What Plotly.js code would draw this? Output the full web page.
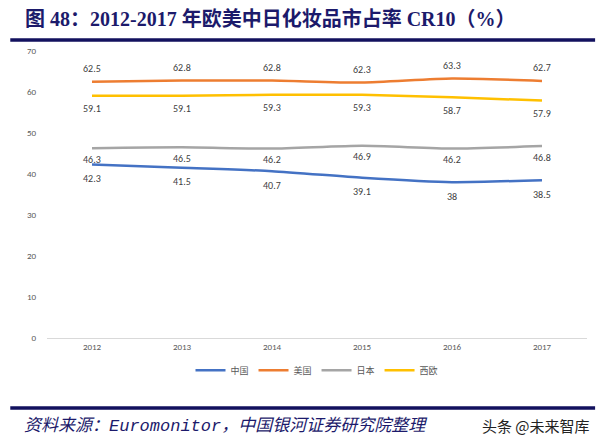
<!DOCTYPE html>
<html>
<head>
<meta charset="utf-8">
<script src="https://cdn.plot.ly/plotly-3.0.1.min.js"></script>
<style>
html,body{margin:0;padding:0;background:#fff;}
#chart{width:599px;height:441px;}
</style>
</head>
<body>
<div id="chart"></div>
<script>
const years = ['2012','2013','2014','2015','2016','2017'];
const china = [42.3, 41.5, 40.7, 39.1, 38, 38.5];
const usa = [62.5, 62.8, 62.8, 62.3, 63.3, 62.7];
const japan = [46.3, 46.5, 46.2, 46.9, 46.2, 46.8];
const westEurope = [59.1, 59.1, 59.3, 59.3, 58.7, 57.9];
const seriesNames = ['中国', '美国', '日本', '西欧'];
const yTicks = [0, 10, 20, 30, 40, 50, 60, 70];

const colors = ['#4472C4', '#ED7D31', '#A5A5A5', '#FFC000'];
const series = [china, usa, japan, westEurope];
const labelShift = [-14, 13, -11, -13];

const traces = series.map((vals, i) => ({
  type: 'scatter',
  mode: 'lines',
  x: years,
  y: vals,
  name: seriesNames[i],
  line: {color: colors[i], width: 2.5, shape: 'spline', smoothing: 0.6},
  hoverinfo: 'skip'
}));

const annotations = [];
series.forEach((vals, i) => {
  vals.forEach((v, j) => {
    annotations.push({
      x: j, y: v, xref: 'x', yref: 'y',
      text: String(v), showarrow: false,
      yshift: labelShift[i],
      font: {family: 'Calibri, Carlito, "Liberation Sans", sans-serif', size: 10, color: '#404040'}
    });
  });
});

annotations.push({
  xref: 'paper', yref: 'paper', x: -0.045, y: 1.0, xanchor: 'left', yanchor: 'middle',
  yshift: 33,
  text: '<b>图 48：2012-2017 年欧美中日化妆品市占率 CR10（%）</b>',
  showarrow: false,
  font: {family: '"Liberation Serif", "Noto Sans CJK SC", serif', size: 20, color: '#1c1a6b'}
});

const layout = {
  width: 599, height: 441,
  margin: {l: 47, r: 12, t: 51, b: 103},
  paper_bgcolor: '#ffffff', plot_bgcolor: '#ffffff',
  showlegend: true,
  legend: {
    orientation: 'h', x: 0.5, xanchor: 'center', y: -0.112, yanchor: 'middle',
    font: {family: '"Noto Sans CJK SC", sans-serif', size: 9, color: '#595959'},
    itemwidth: 30, tracegroupgap: 0
  },
  xaxis: {
    type: 'category', range: [-0.5, 5.5],
    showgrid: false, zeroline: false,
    showline: true, linecolor: '#D9D9D9', linewidth: 1,
    ticks: '', tickfont: {family: 'Calibri, Carlito, "Liberation Sans", sans-serif', size: 9, color: '#595959'},
    fixedrange: true
  },
  yaxis: {
    range: [0, 70], tickvals: yTicks, ticktext: yTicks.map(String),
    showgrid: false, zeroline: false, showline: false,
    ticks: '', ticklabelstandoff: 10,
    tickfont: {family: 'Calibri, Carlito, "Liberation Sans", sans-serif', size: 9, color: '#595959'},
    fixedrange: true
  },
  annotations: annotations.concat([
    {
      xref: 'paper', yref: 'paper', x: -0.046, y: 0, xanchor: 'left', yanchor: 'middle',
      yshift: -88,
      text: '<i>资料来源：Euromonitor，中国银河证券研究院整理</i>',
      showarrow: false,
      font: {family: '"Liberation Mono", "Noto Sans CJK SC", monospace', size: 17, color: '#1c1a6b'}
    },
    {
      xref: 'paper', yref: 'paper', x: 1.0, y: 0, xanchor: 'right', yanchor: 'middle',
      yshift: -87, xshift: 5,
      text: '头条 @未来智库',
      showarrow: false,
      font: {family: '"Noto Sans CJK SC", sans-serif', size: 15, color: '#222222'}
    }
  ]),
  shapes: [
    {type: 'line', xref: 'paper', yref: 'paper', x0: -0.068, x1: 1.015, y0: 1, y1: 1,
     line: {color: '#12115e', width: 3.5}},
    {type: 'line', xref: 'paper', yref: 'paper', x0: -0.068, x1: 1.015, y0: 0, y1: 0,
     line: {color: '#12115e', width: 3.5}}
  ]
};

const plotH = 441 - 51 - 103;
layout.shapes[0].y0 = layout.shapes[0].y1 = 1 + (51 - 40) / plotH;
layout.shapes[1].y0 = layout.shapes[1].y1 = -(408 - 338) / plotH;

Plotly.newPlot('chart', traces, layout, {displayModeBar: false, staticPlot: true});
</script>
</body>
</html>
